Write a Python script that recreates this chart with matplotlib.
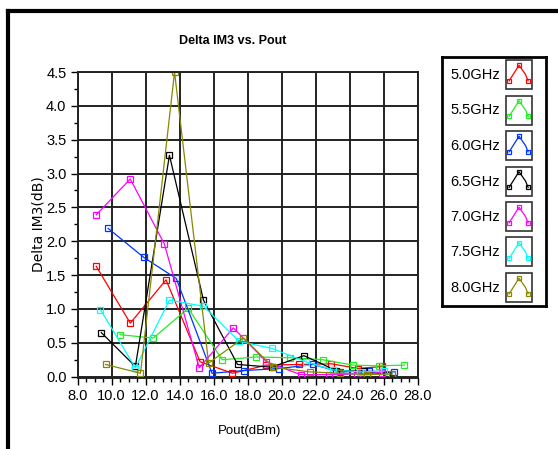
import matplotlib

matplotlib.use("Agg")
import matplotlib.pyplot as plt
from matplotlib.lines import Line2D
from matplotlib.patches import Rectangle
from matplotlib.ticker import MultipleLocator, FormatStrFormatter

plt.rcParams["font.family"] = ["Liberation Sans", "DejaVu Sans"]

# Pout (dBm) and Delta IM3 (dB) per frequency
labels = ["5.0GHz", "5.5GHz", "6.0GHz", "6.5GHz", "7.0GHz", "7.5GHz", "8.0GHz"]
colors = ["#ff0000", "#22ee22", "#0033ff", "#000000", "#ff00ff", "#00ffff", "#888800"]

x_50 = [9.1, 11.1, 13.2, 15.2, 17.1, 19.1, 21.0, 22.9, 24.5, 25.9]
y_50 = [1.63, 0.79, 1.43, 0.22, 0.05, 0.17, 0.18, 0.19, 0.12, 0.15]

x_55 = [10.5, 12.45, 14.5, 16.5, 18.5, 20.5, 22.4, 24.2, 25.7, 27.2]
y_55 = [0.62, 0.57, 1.01, 0.25, 0.29, 0.28, 0.25, 0.17, 0.16, 0.17]

x_60 = [9.8, 11.9, 13.8, 15.9, 17.8, 19.85, 21.85, 23.4, 25.1, 26.6]
y_60 = [2.19, 1.76, 1.45, 0.05, 0.09, 0.12, 0.18, 0.07, 0.08, 0.07]

x_65 = [9.4, 11.4, 13.4, 15.4, 17.4, 19.4, 21.3, 23.2, 24.8, 26.2]
y_65 = [0.65, 0.15, 3.27, 1.13, 0.18, 0.14, 0.31, 0.09, 0.08, 0.03]

x_70 = [9.1, 11.1, 13.1, 15.15, 17.15, 19.1, 21.1, 22.8, 24.4, 25.9]
y_70 = [2.39, 2.92, 1.96, 0.13, 0.72, 0.22, 0.03, 0.03, 0.04, 0.06]

x_75 = [9.35, 11.4, 13.4, 15.4, 17.5, 19.4, 21.4, 23.0, 24.6, 26.0]
y_75 = [0.99, 0.13, 1.13, 1.04, 0.52, 0.42, 0.22, 0.10, 0.07, 0.08]

x_80 = [9.65, 11.7, 13.7, 15.7, 17.75, 19.5, 21.65, 23.4, 25.0, 26.5]
y_80 = [0.18, 0.05, 4.5, 0.20, 0.57, 0.14, 0.07, 0.05, 0.03, 0.04]

xs = [x_50, x_55, x_60, x_65, x_70, x_75, x_80]
ys = [y_50, y_55, y_60, y_65, y_70, y_75, y_80]

W, H = 558, 449
fig = plt.figure(figsize=(W / 100, H / 100), dpi=100)

# outer frame (only top and left edges visible in the crop)
fig.add_artist(Line2D([8 / W, 8 / W], [0, 1 - 11 / H], color="black", lw=3))
fig.add_artist(Line2D([8 / W, 1], [1 - 11 / H, 1 - 11 / H], color="black", lw=3))

ax = fig.add_axes([77.5 / W, 1 - 378 / H, (418 - 77.5) / W, (378 - 72) / H])

for x, y, c in zip(xs, ys, colors):
    ax.plot(x, y, color=c, lw=0.9, marker="s", ms=4.5, mfc="none", mec=c, mew=0.9)

ax.set_xlim(8, 28)
ax.set_ylim(-0.02, 4.5)
ax.xaxis.set_major_locator(MultipleLocator(2))
ax.xaxis.set_minor_locator(MultipleLocator(0.5))
ax.yaxis.set_major_locator(MultipleLocator(0.5))
ax.yaxis.set_minor_locator(MultipleLocator(0.25))
ax.xaxis.set_major_formatter(FormatStrFormatter("%.1f"))
ax.yaxis.set_major_formatter(FormatStrFormatter("%.1f"))
ax.grid(True, which="major", color="#222222", lw=1.4)
ax.tick_params(which="major", direction="out", length=5, width=1, labelsize=10.5, pad=3)
ax.tick_params(which="minor", direction="out", length=3, width=1)
for s in ax.spines.values():
    s.set_color("#222222")
    s.set_linewidth(1.4)

fig.text(233 / W, 1 - 41 / H, "Delta IM3 vs. Pout", fontsize=9, fontweight="bold",
         ha="center", va="center")
fig.text(250 / W, 1 - 431 / H, "Pout(dBm)", fontsize=9.5, ha="center", va="center")
fig.text(38 / W, 1 - 224 / H, "Delta IM3(dB)", fontsize=10, family="DejaVu Sans",
         rotation=90, ha="center", va="center")

# legend panel drawn in pixel units
lg = fig.add_axes([442 / W, 1 - 306 / H, 104 / W, 249 / H])
lg.set_xlim(0, 104)
lg.set_ylim(249, 0)
lg.set_xticks([])
lg.set_yticks([])
for s in lg.spines.values():
    s.set_linewidth(2)

icon_x = [0.12, 0.5, 0.75, 0.85]
icon_y = [0.28, 0.82, 0.5, 0.28]
for i, (lab, c) in enumerate(zip(labels, colors)):
    top = 3 + i * 35.5
    lg.text(33, top + 15, lab, ha="center", va="center", fontsize=10.5)
    lg.add_patch(Rectangle((64, top), 26, 29, fill=False, ec="#333333", lw=1.2))
    px = [64 + 26 * u for u in icon_x]
    py = [top + 29 * (1 - v) for v in icon_y]
    lg.plot(px, py, color=c, lw=0.9)
    lg.plot([px[0], px[1], px[3]], [py[0], py[1], py[3]], ls="none",
            marker="s", ms=3.5, mfc="none", mec=c, mew=0.9)

fig.savefig("out.png", dpi=100)
